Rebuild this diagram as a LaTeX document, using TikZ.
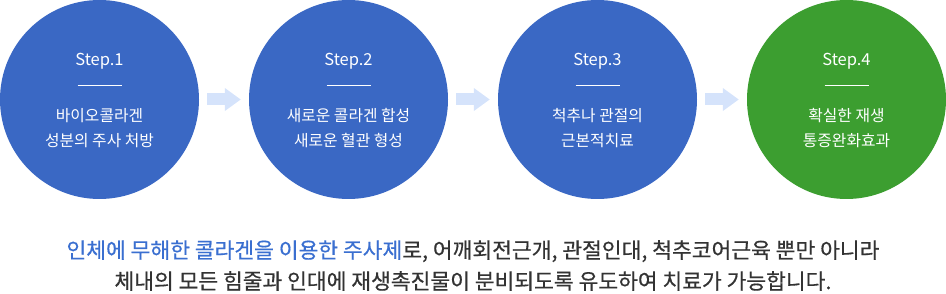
\documentclass[tikz,border=0pt]{standalone}
\usepackage{fontspec}
\setmainfont{Noto Sans CJK KR}
\newfontfamily\notefont[FakeBold=0.5]{Noto Sans CJK KR}
\usetikzlibrary{arrows.meta, positioning}
\definecolor{stepblue}{HTML}{3A68C4}
\definecolor{stepgreen}{HTML}{3C9E30}
\definecolor{arrowblue}{HTML}{D5E3FB}
\definecolor{hiblue}{HTML}{3A6FD0}
\definecolor{bodygray}{HTML}{333333}

\begin{document}
\begin{tikzpicture}[x=1pt, y=-1pt,
  stepcircle/.style={circle, minimum size=199pt, inner sep=0pt, fill=stepblue},
  steptitle/.style={text=white, inner sep=0pt, font=\fontsize{16.5}{18}\selectfont},
  stepdesc/.style={text=white, align=center, inner sep=0pt, font=\fontsize{15.8}{25}\selectfont},
  rule/.style={draw=white, line width=0.8pt},
  arr/.style={draw=arrowblue, line width=12pt, -{Triangle[length=16pt, width=22pt]}}
]
\useasboundingbox (0,0) rectangle (946,294);

% circles
\node[stepcircle] (c1) at (99.5,99.5) {};
\node[stepcircle] (c2) at (348.5,99.5) {};
\node[stepcircle] (c3) at (597.5,99.5) {};
\node[stepcircle, fill=stepgreen] (c4) at (846.5,99.5) {};

% step 1
\node[steptitle] (t1) at (99.5,61.5) {Step.1};
\draw[rule] ([xshift=-22pt,yshift=14.5pt]c1.center) -- ([xshift=22pt,yshift=14.5pt]c1.center);
\node[stepdesc] (d1) at (99.5,128.5) {바이오콜라겐\\성분의 주사 처방};

% step 2
\node[steptitle] (t2) at (348.5,61.5) {Step.2};
\draw[rule] ([xshift=-22pt,yshift=14.5pt]c2.center) -- ([xshift=22pt,yshift=14.5pt]c2.center);
\node[stepdesc] (d2) at (348.5,128.5) {새로운 콜라겐 합성\\새로운 혈관 형성};

% step 3
\node[steptitle] (t3) at (597.5,61.5) {Step.3};
\draw[rule] ([xshift=-22pt,yshift=14.5pt]c3.center) -- ([xshift=22pt,yshift=14.5pt]c3.center);
\node[stepdesc] (d3) at (597.5,128.5) {척추나 관절의\\근본적치료};

% step 4
\node[steptitle] (t4) at (846.5,61.5) {Step.4};
\draw[rule] ([xshift=-22pt,yshift=14.5pt]c4.center) -- ([xshift=22pt,yshift=14.5pt]c4.center);
\node[stepdesc] (d4) at (846.5,128.5) {확실한 재생\\통증완화효과};

\draw[arr] ([xshift=8pt]c1.east) -- ([xshift=-8pt]c2.west);
\draw[arr] ([xshift=8pt]c2.east) -- ([xshift=-8pt]c3.west);
\draw[arr] ([xshift=8pt]c3.east) -- ([xshift=-8pt]c4.west);

% note below
\node[text=bodygray, align=center, inner sep=0pt, font=\notefont\fontsize{21.5}{31}\selectfont] (note) at (473,265.5)
  {\textcolor{hiblue}{인체에 무해한 콜라겐을 이용한 주사제}로, 어깨회전근개, 관절인대, 척추코어근육 뿐만 아니라\\
   체내의 모든 힘줄과 인대에 재생촉진물이 분비되도록 유도하여 치료가 가능합니다.};
\end{tikzpicture}
\end{document}
